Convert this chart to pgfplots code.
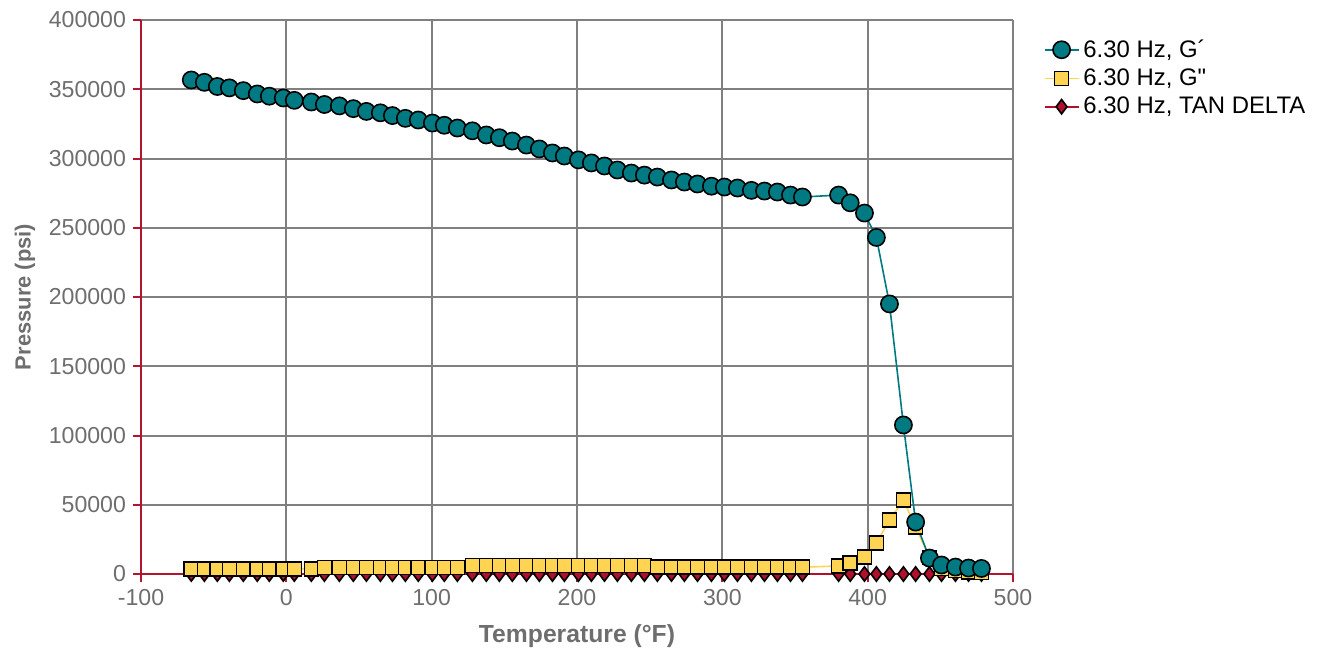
\documentclass[border=0pt]{standalone}
\usepackage{fontspec}
\setmainfont{Liberation Sans}
\usepackage{pgfplots}
\pgfplotsset{compat=1.18}
\definecolor{gteal}{HTML}{007A82}
\definecolor{gyellow}{HTML}{FFD452}
\definecolor{gred}{HTML}{B0102C}
\definecolor{axred}{HTML}{B3152F}
\definecolor{gridgray}{HTML}{808080}
\definecolor{txtgray}{HTML}{6E6E6E}

\pgfplotstableread{
T      Gp      Gpp    TD
-65.4  356700  3800   0.02
-56.4  355000  3800   0.02
-47.5  352000  3800   0.02
-39.2  351000  3800   0.02
-29.6  349000  3800   0.02
-20.0  346600  3800   0.02
-11.7  345000  3800   0.02
-2.1   343700  3800   0.02
5.5    342000  3800   0.02
17.2   340800  3800   0.02
26.2   339000  4800   0.02
36.5   338000  4800   0.02
46.1   336000  4800   0.02
55.1   334000  4800   0.02
64.7   333000  4800   0.02
73.0   331000  4800   0.02
81.9   329000  4800   0.02
90.8   327800  4800   0.02
100.5  325600  4800   0.02
108.7  324000  4800   0.02
117.7  322000  4800   0.02
128.0  320000  6000   0.02
137.6  317000  6000   0.02
146.6  315000  6000   0.02
155.5  312600  6000   0.02
165.2  309700  6000   0.02
174.1  306900  6000   0.02
183.1  304000  6000   0.02
191.3  301800  6000   0.02
201.0  299000  6000   0.02
209.9  296800  6000   0.02
218.9  294600  6000   0.02
227.8  291700  6000   0.02
237.4  289500  6000   0.02
246.4  288000  6000   0.02
255.3  286600  4900   0.02
265.0  284500  4900   0.02
273.9  283000  4900   0.02
282.9  281600  4900   0.02
292.5  280000  4900   0.02
301.4  279400  4900   0.02
310.4  278700  4900   0.02
320.0  277000  4900   0.02
329.0  276500  4900   0.02
337.9  275800  4900   0.02
346.9  273600  4900   0.02
355.1  272200  4900   0.02
380.0  273600  5800   0.02
388.0  268000  8000   0.03
397.8  260600  12300  0.05
406.0  243000  22400  0.09
415.0  195000  39000  0.2
424.6  107600  53400  0.5
433.0  37500   34000  0.9
442.5  11500   12000  1.0
450.8  6500    4000   0.6
460.4  5000    2500   0.5
469.4  4300    1500   0.35
478.3  4000    1200   0.3
}\datatable

\begin{document}
\begin{tikzpicture}
\useasboundingbox (-70.5bp,-38.5bp) rectangle (588.5bp,287bp);
\begin{axis}[
  at={(0,0)}, anchor=south west,
  scale only axis, width=436bp, height=277bp,
  xmin=-100, xmax=500, ymin=0, ymax=400000,
  xtick={-100,0,100,200,300,400,500},
  xticklabels={-100,0,100,200,300,400,500},
  ytick={0,50000,100000,150000,200000,250000,300000,350000,400000},
  yticklabels={0,50000,100000,150000,200000,250000,300000,350000,400000},
  scaled y ticks=false,
  axis x line*=bottom, axis y line*=left,
  axis line style={draw=axred, line width=1bp, -},
  grid=major, grid style={draw=gridgray, line width=1bp},
  tick style={draw=axred, line width=1bp},
  tick align=outside, major tick length=4bp,
  ticklabel style={font=\fontsize{11.6}{13}\selectfont, text=txtgray},
  xlabel={Temperature (°F)}, ylabel={Pressure (psi)},
  xlabel style={font=\bfseries\fontsize{12.4}{14}\selectfont, text=txtgray, yshift=-3bp},
  ylabel style={font=\bfseries\fontsize{11}{13}\selectfont, text=txtgray},
  clip=false,
  reverse legend,
  legend style={draw=none, fill=none, at={(1.028,0.98)}, anchor=north west,
    font=\fontsize{12}{13}\selectfont, row sep=0.3bp,
    cells={anchor=west}},
]
\addplot[gred, line width=0.8bp, mark=diamond*, mark size=3.6bp,
  mark options={fill=gred, draw=black, line width=0.8bp}] table[x=T, y=TD] {\datatable};
\addlegendentry{6.30 Hz, TAN DELTA}
\addplot[gyellow, line width=0.8bp, mark=square*, mark size=3.5bp,
  mark options={fill=gyellow, draw=black, line width=0.8bp}] table[x=T, y=Gpp] {\datatable};
\addlegendentry{6.30 Hz, G\textquotedbl}
\addplot[gteal, line width=0.8bp, mark=*, mark size=4.3bp,
  mark options={fill=gteal, draw=black, line width=0.8bp}] table[x=T, y=Gp] {\datatable};
\addlegendentry{6.30 Hz, G´}
\end{axis}
\end{tikzpicture}
\end{document}
